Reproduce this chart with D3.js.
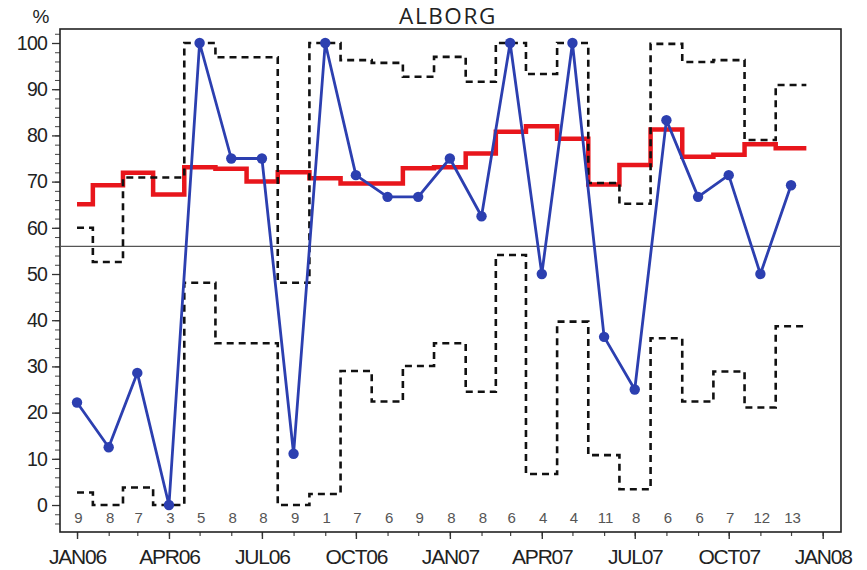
<!DOCTYPE html>
<html>
<head>
<meta charset="utf-8">
<script src="https://cdn.jsdelivr.net/npm/d3@7"></script>
<style>
  html, body { margin: 0; padding: 0; background: #fff; }
  svg { display: block; }
</style>
</head>
<body>
<div id="chart"></div>
<script>
// ---------- data ----------
const title = "ALBORG";
const months = ["2006-01","2006-02","2006-03","2006-04","2006-05","2006-06","2006-07","2006-08","2006-09","2006-10","2006-11","2006-12",
                "2007-01","2007-02","2007-03","2007-04","2007-05","2007-06","2007-07","2007-08","2007-09","2007-10","2007-11","2007-12"];
const counts = [9,8,7,3,5,8,8,9,1,7,6,9,8,8,6,4,4,11,8,6,6,7,12,13];
const observed = [22.2,12.5,28.6,0,100,75,75,11.1,100,71.4,66.7,66.7,75,62.5,100,50,100,36.4,25,83.3,66.7,71.4,50,69.2];
const expected = [65.1,69.2,71.9,67.2,73.1,72.8,70.0,72.0,70.7,69.6,69.6,72.9,73.1,76.1,80.8,82.0,79.3,69.4,73.6,81.3,75.4,75.8,78.1,77.2];
const upperLimit = [60.0,52.6,70.9,70.9,100,96.9,96.9,48.1,100,96.3,95.7,92.7,97.0,91.6,100,93.3,100,69.7,65.2,99.8,95.9,96.3,79.0,90.9];
const lowerLimit = [2.7,0,3.8,0,48.1,35.0,35.0,0,2.4,29.0,22.4,30.1,35.0,24.5,54.1,6.7,39.7,10.8,3.4,36.1,22.4,28.9,21.1,38.7];
const referenceValue = 56;
const yTicks = [0,10,20,30,40,50,60,70,80,90,100];
const yLabel = "%";

// ---------- layout ----------
const W = 867, H = 570;
const plot = { left: 60, right: 841, top: 29, bottom: 532 };

const parse = d3.timeParse("%Y-%m");
const dates = months.map(parse);

const x = d3.scaleTime()
  .domain([new Date(2005, 11, 15, 8), new Date(2008, 0, 18, 22)])
  .range([plot.left, plot.right]);
const y = d3.scaleLinear()
  .domain([-5.84, 103.03])
  .range([plot.bottom, plot.top]);

const svg = d3.select("#chart").append("svg")
  .attr("width", W).attr("height", H);

const font = "'Liberation Sans', Arial, Helvetica, sans-serif";

// Title
svg.append("text")
  .attr("x", 448).attr("y", 24.3)
  .attr("text-anchor", "middle")
  .attr("font-family", "'Open Sans', 'Noto Sans', sans-serif")
  .attr("font-size", 22.5)
  .attr("letter-spacing", 1.6)
  .attr("fill", "#222")
  .text(title);

// % label
svg.append("text")
  .attr("x", 41).attr("y", 23)
  .attr("text-anchor", "middle")
  .attr("font-family", font)
  .attr("font-size", 19)
  .attr("fill", "#222")
  .text(yLabel);

// ---------- axes ----------
// y minor
svg.append("g")
  .attr("transform", `translate(${plot.left},0)`)
  .call(d3.axisLeft(y).tickValues(d3.range(-4, 103, 2)).tickSize(5).tickFormat(""))
  .call(g => g.select(".domain").remove())
  .call(g => g.selectAll("line").attr("stroke", "#444").attr("stroke-width", 1));
// y major
svg.append("g")
  .attr("transform", `translate(${plot.left},0)`)
  .call(d3.axisLeft(y).tickValues(yTicks).tickSize(8).tickPadding(5))
  .call(g => g.select(".domain").remove())
  .call(g => g.selectAll("line").attr("stroke", "#333").attr("stroke-width", 1.3))
  .call(g => g.selectAll("text")
    .attr("font-family", font).attr("font-size", 19.5).attr("fill", "#222")
    .attr("letter-spacing", -0.8));

// x minor (monthly)
svg.append("g")
  .attr("transform", `translate(0,${plot.bottom})`)
  .call(d3.axisBottom(x).ticks(d3.timeMonth.every(1)).tickSize(4).tickFormat(""))
  .call(g => g.select(".domain").remove())
  .call(g => g.selectAll("line").attr("stroke", "#444").attr("stroke-width", 1.2));
// x major (quarterly)
const fmt = d3.timeFormat("%b%y");
svg.append("g")
  .attr("transform", `translate(0,${plot.bottom})`)
  .call(d3.axisBottom(x).ticks(d3.timeMonth.every(3)).tickSize(7).tickPadding(10)
    .tickFormat(d => fmt(d).toUpperCase()))
  .call(g => g.select(".domain").remove())
  .call(g => g.selectAll("line").attr("stroke", "#333").attr("stroke-width", 1.4))
  .call(g => g.selectAll("text")
    .attr("font-family", font).attr("font-size", 21).attr("fill", "#222")
    .attr("letter-spacing", -1.2));

// ---------- frame ----------
svg.append("rect")
  .attr("x", plot.left).attr("y", plot.top)
  .attr("width", plot.right - plot.left).attr("height", plot.bottom - plot.top)
  .attr("fill", "none").attr("stroke", "#222").attr("stroke-width", 1.6);

// reference line
svg.append("line")
  .attr("x1", plot.left).attr("x2", plot.right)
  .attr("y1", y(referenceValue)).attr("y2", y(referenceValue))
  .attr("stroke", "#555").attr("stroke-width", 1.3);

// ---------- step series helper ----------
function stepPoints(values) {
  const pts = [[dates[0], values[0]]];
  for (let i = 1; i < values.length; i++) {
    const mid = new Date((dates[i - 1].getTime() + dates[i].getTime()) / 2);
    pts.push([mid, values[i]]);
  }
  const n = dates.length;
  const end = new Date(dates[n - 1].getTime() + (dates[n - 1] - dates[n - 2]) / 2);
  pts.push([end, values[n - 1]]);
  return pts;
}
const stepLine = d3.line()
  .x(d => x(d[0])).y(d => y(d[1]))
  .curve(d3.curveStepAfter);

// expected (red)
svg.append("path")
  .datum(stepPoints(expected))
  .attr("d", stepLine)
  .attr("fill", "none").attr("stroke", "#e8161c").attr("stroke-width", 4.5);

// limits (dashed)
[upperLimit, lowerLimit].forEach(vals => {
  svg.append("path")
    .datum(stepPoints(vals))
    .attr("d", stepLine)
    .attr("fill", "none").attr("stroke", "#111").attr("stroke-width", 2.6)
    .attr("stroke-dasharray", "7,5");
});

// observed (blue)
const obs = dates.map((d, i) => ({ date: d, v: observed[i] }));
svg.append("path")
  .datum(obs)
  .attr("d", d3.line().x(d => x(d.date)).y(d => y(d.v)))
  .attr("fill", "none").attr("stroke", "#2c3fb0").attr("stroke-width", 2.8)
  .attr("stroke-linejoin", "round");
svg.append("g").selectAll("circle")
  .data(obs)
  .join("circle")
  .attr("cx", d => x(d.date)).attr("cy", d => y(d.v))
  .attr("r", 5.2).attr("fill", "#2c3fb0");

// counts
svg.append("g").selectAll("text")
  .data(dates.map((d, i) => ({ date: d, n: counts[i] })))
  .join("text")
  .attr("x", d => x(d.date) + 1.5).attr("y", y(-3.8))
  .attr("text-anchor", "middle")
  .attr("font-family", font).attr("font-size", 15)
  .attr("fill", "#555")
  .text(d => d.n);
</script>
</body>
</html>
